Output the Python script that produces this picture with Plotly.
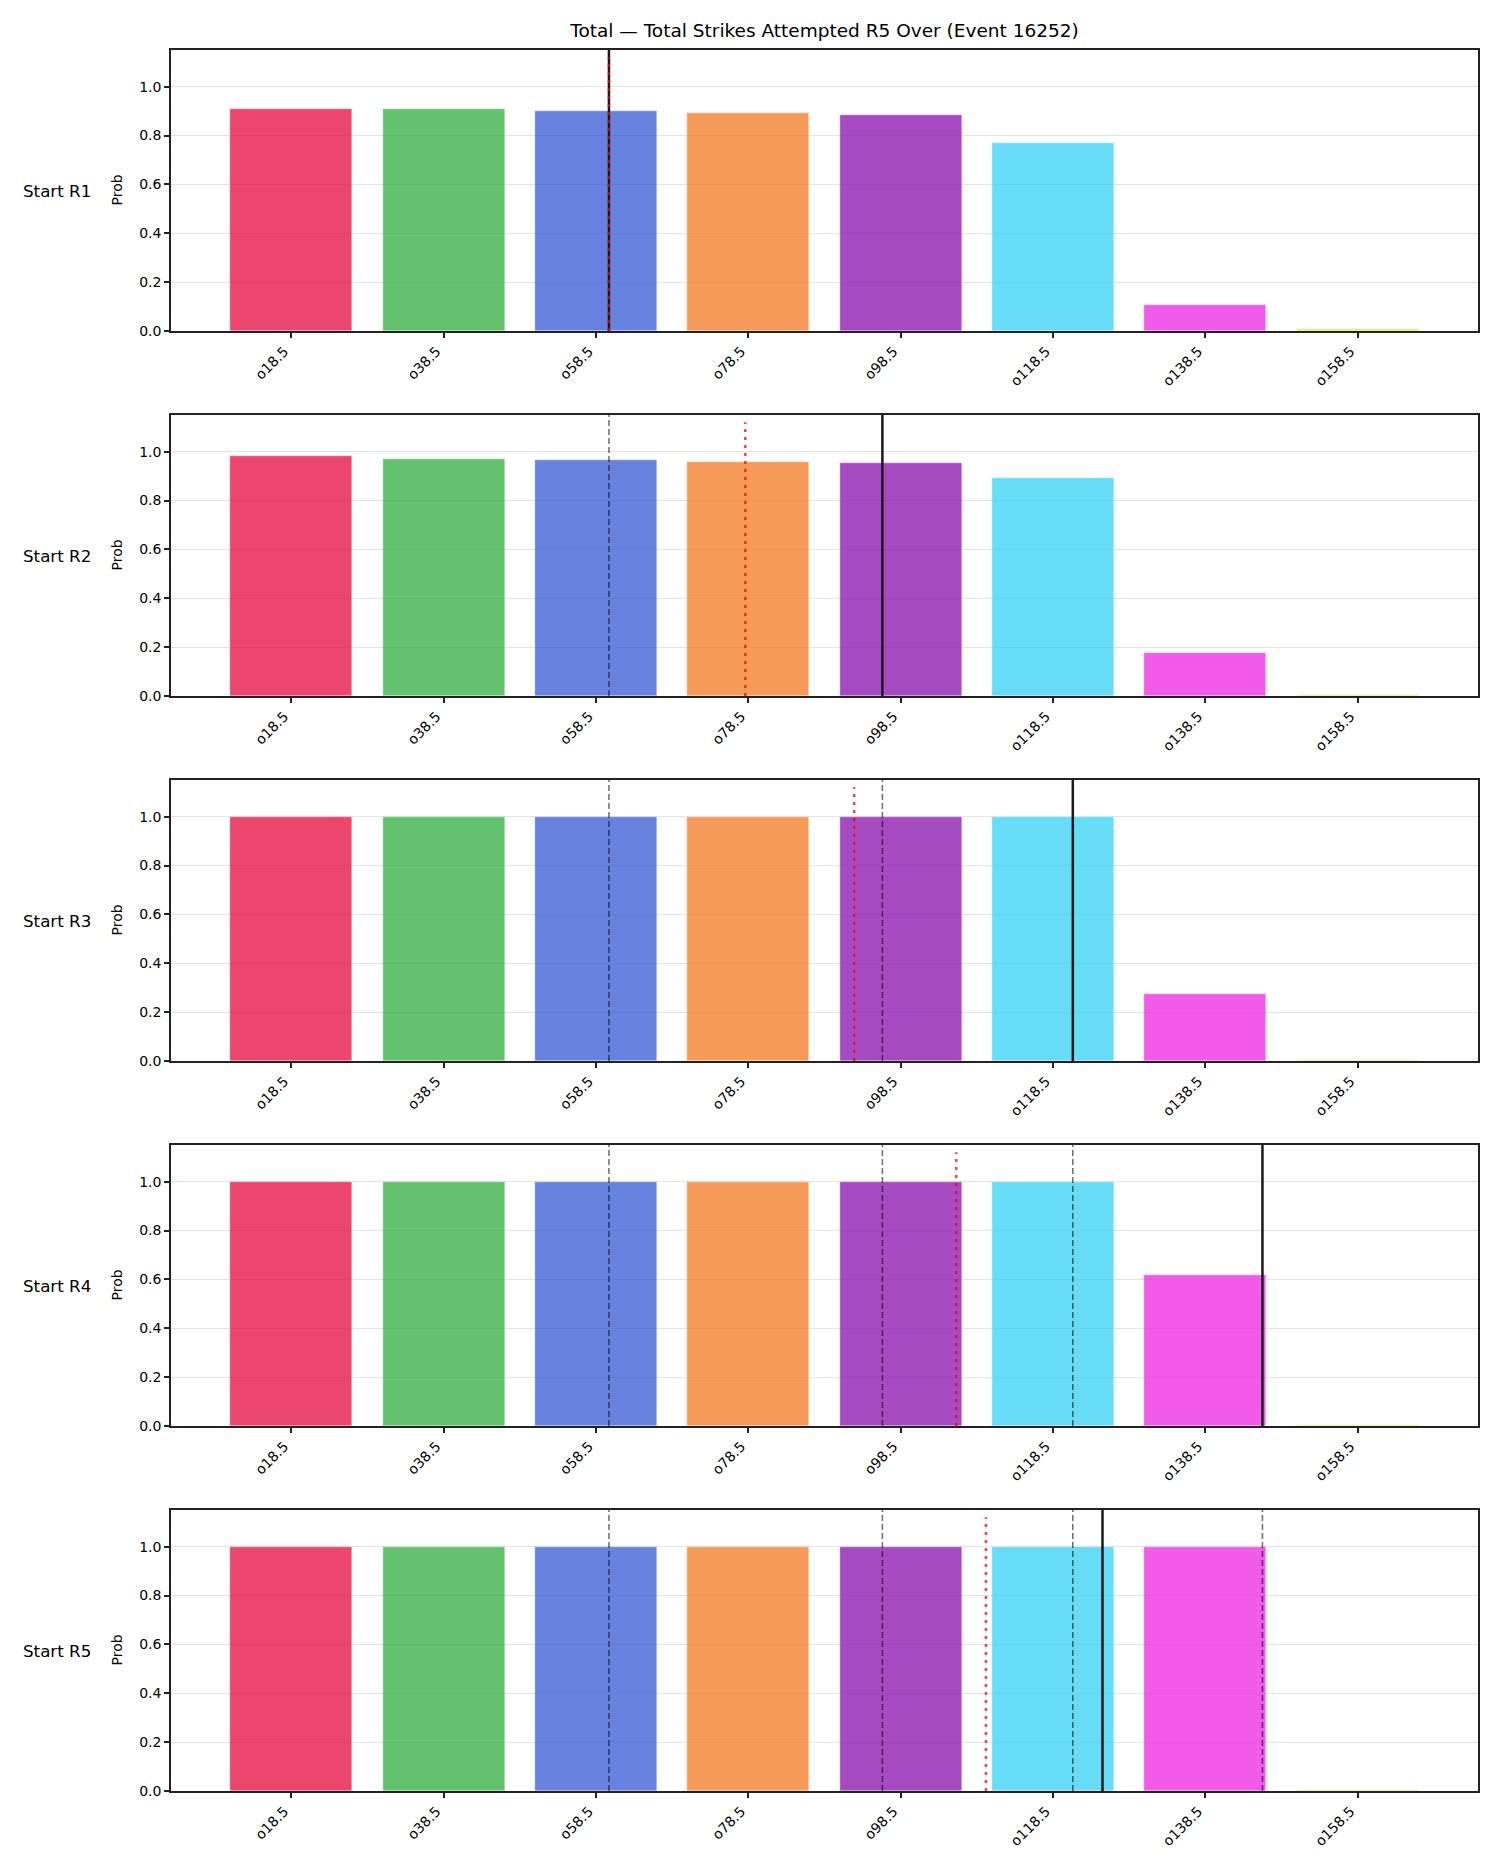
import plotly.graph_objects as go

# ---------------- data ----------------
categories = ["o18.5", "o38.5", "o58.5", "o78.5", "o98.5", "o118.5", "o138.5", "o158.5"]
thresholds = [18.5, 38.5, 58.5, 78.5, 98.5, 118.5, 138.5, 158.5]
rounds = ["Start R1", "Start R2", "Start R3", "Start R4", "Start R5"]

prob_r1 = [0.907, 0.907, 0.899, 0.891, 0.883, 0.768, 0.105, 0.007]
prob_r2 = [0.981, 0.969, 0.965, 0.956, 0.952, 0.891, 0.176, 0.005]
prob_r3 = [0.999, 0.999, 0.999, 0.999, 0.999, 0.999, 0.273, 0.006]
prob_r4 = [1.0, 1.0, 1.0, 1.0, 1.0, 0.999, 0.617, 0.006]
prob_r5 = [1.0, 1.0, 1.0, 1.0, 1.0, 1.0, 1.0, 0.005]
probs = [prob_r1, prob_r2, prob_r3, prob_r4, prob_r5]

# current cumulative value at start of each round (solid black line)
current_vals = [60.2, 96.1, 121.1, 146.0, 125.0]
# projection line (red dotted)
projection_vals = [60.2, 78.1, 92.4, 105.8, 109.7]

bar_colors = ["#e6194b", "#3cb44b", "#4363d8", "#f58231", "#911eb4", "#42d4f4", "#f032e6", "#bfef45"]

title = "Total — Total Strikes Attempted R5 Over (Event 16252)"

# ---------------- layout geometry ----------------
W, H = 1500, 1875
ML, MR, MT, MB = 171, 22, 50, 84
plot_h = H - MT - MB
row_top_px = [50, 415, 780, 1145, 1510]
row_h_px = 281


def to_idx(v):
    # linear position on the categorical (index) axis
    step = thresholds[1] - thresholds[0]
    return (v - thresholds[0]) / step


fig = go.Figure()
FONT = "DejaVu Sans"
shapes = []
annotations = []
n = len(rounds)

for r in range(n):
    ax = "" if r == 0 else str(r + 1)
    xname = "x" + ax
    yname = "y" + ax
    top = row_top_px[r]
    bot = top + row_h_px
    dom = [1 - (bot - MT) / plot_h, 1 - (top - MT) / plot_h]

    fig.add_trace(go.Bar(
        x=list(range(len(categories))), y=probs[r],
        marker=dict(color=bar_colors, line=dict(color="white", width=0.4)),
        opacity=0.8, width=0.8, xaxis=xname, yaxis=yname, showlegend=False,
        hovertext=categories,
    ))

    common_x = dict(
        domain=[0, 1], range=[-0.79, 7.79], anchor=yname,
        tickmode="array", tickvals=list(range(len(categories))), ticktext=categories,
        tickangle=-45, ticks="outside", ticklen=5, tickwidth=1.5, tickcolor="#222",
        ticklabelshift=-7,
        showline=True, linecolor="#222", linewidth=1.5, mirror=True,
        showgrid=False, zeroline=False,
        tickfont=dict(family=FONT, size=14, color="black"),
    )
    common_y = dict(
        domain=dom, range=[0, 1.15], anchor=xname,
        tickmode="array", tickvals=[0, 0.2, 0.4, 0.6, 0.8, 1.0],
        ticktext=["0.0", "0.2", "0.4", "0.6", "0.8", "1.0"],
        ticks="outside", ticklen=5, tickwidth=1.5, tickcolor="#222",
        showline=True, linecolor="#222", linewidth=1.5, mirror=True,
        showgrid=True, gridcolor="#e3e3e3", gridwidth=1, zeroline=False,
        tickfont=dict(family=FONT, size=14, color="black"),
    )
    fig.layout["xaxis" + ax] = common_x
    fig.layout["yaxis" + ax] = common_y

    # dashed lines: previous rounds' current values
    for p in range(r):
        xv = to_idx(current_vals[p])
        shapes.append(dict(type="line", xref=xname, yref=yname + " domain",
                           x0=xv, x1=xv, y0=0, y1=1, layer="above",
                           line=dict(color="rgba(0,0,0,0.55)", width=1.6, dash="6px,3px")))
    # solid black current line
    xv = to_idx(current_vals[r])
    shapes.append(dict(type="line", xref=xname, yref=yname + " domain",
                       x0=xv, x1=xv, y0=0, y1=1, layer="above",
                       line=dict(color="#1a1a1a", width=2.5)))
    # red dotted projection line
    xv = to_idx(projection_vals[r])
    shapes.append(dict(type="line", xref=xname, yref=yname,
                       x0=xv, x1=xv, y0=0, y1=1.12, layer="above",
                       line=dict(color="rgba(255,0,0,0.75)", width=2.5, dash="3px,5px")))

    ymid = 1 - ((top + bot) / 2 - MT) / plot_h
    annotations.append(dict(text=rounds[r], xref="paper", yref="paper",
                            x=(21 - ML) / (W - ML - MR), y=ymid, xanchor="left", yanchor="middle",
                            showarrow=False, font=dict(family=FONT, size=16.7, color="black")))
    annotations.append(dict(text="Prob", xref="paper", yref="paper",
                            x=(116 - ML) / (W - ML - MR), y=ymid, xanchor="center", yanchor="middle",
                            textangle=-90, showarrow=False,
                            font=dict(family=FONT, size=14, color="black")))

fig.update_layout(
    width=W, height=H,
    margin=dict(l=ML, r=MR, t=MT, b=MB),
    paper_bgcolor="white", plot_bgcolor="white",
    title=dict(text=title, x=(ML + (W - ML - MR) / 2) / W, xanchor="center",
               y=1 - 31 / H, yanchor="middle", yref="container",
               font=dict(family=FONT, size=18.5, color="black")),
    shapes=shapes, annotations=annotations,
    bargap=0, showlegend=False,
    font=dict(family=FONT),
)

fig.write_html("out.html")
